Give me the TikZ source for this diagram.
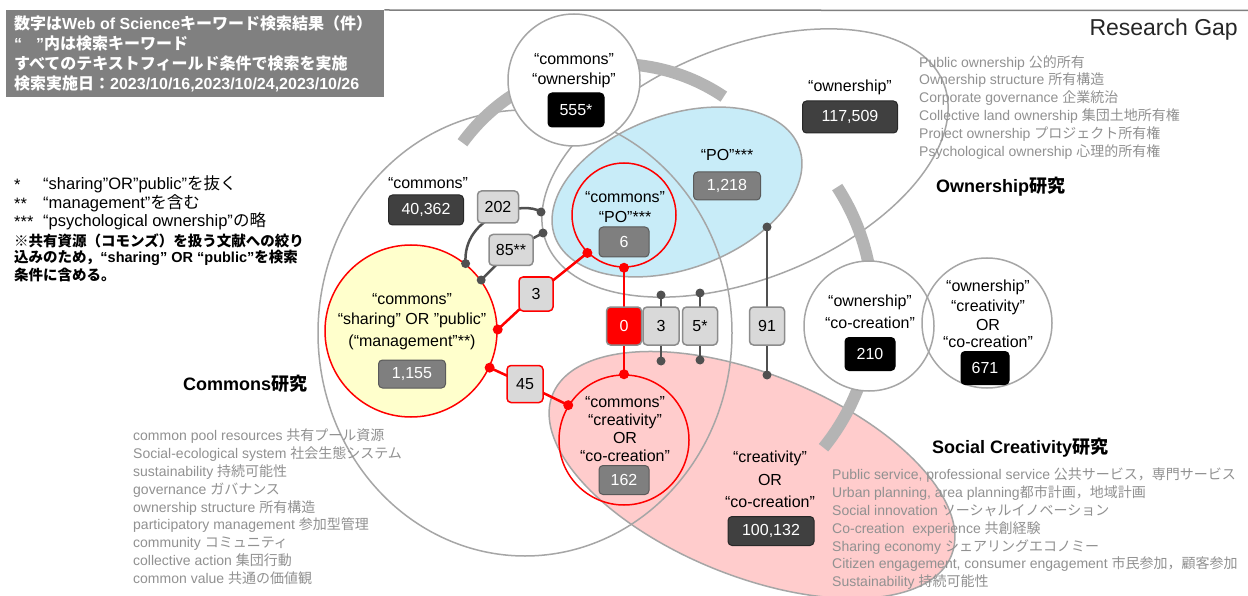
\documentclass[tikz,border=0pt]{standalone}
\usepackage{fontspec}
\setmainfont{Liberation Sans}
\newfontfamily\jpf{Noto Sans CJK JP}
\newcommand\jp[1]{{\jpf #1}}
\newcommand\fs[2]{\fontsize{#1}{#2}\selectfont}
\usetikzlibrary{shapes.geometric}
\definecolor{outl}{RGB}{166,166,166}
\definecolor{arcg}{RGB}{180,180,180}
\definecolor{pob}{RGB}{200,236,248}
\definecolor{pinkf}{RGB}{255,204,204}
\definecolor{yelf}{RGB}{255,255,204}
\definecolor{boxd}{RGB}{64,64,64}
\definecolor{boxdd}{RGB}{40,40,40}
\definecolor{boxm}{RGB}{127,127,127}
\definecolor{boxmd}{RGB}{90,90,90}
\definecolor{boxl}{RGB}{217,217,217}
\definecolor{boxld}{RGB}{140,140,140}
\definecolor{listg}{RGB}{145,145,145}
\definecolor{conng}{RGB}{80,80,80}
\definecolor{titleg}{RGB}{128,128,128}
\pgfdeclarelayer{bg}
\pgfdeclarelayer{conn}
\pgfsetlayers{bg,conn,main}
\newcommand\ellpath[5]{plot[domain=0:357,samples=120,smooth cycle] ({#1+#3*cos(\x)*cos(#5)-#4*sin(\x)*sin(#5)},{#2+#3*cos(\x)*sin(#5)+#4*sin(\x)*cos(#5)})}
\tikzset{
 lbl/.style={font=\fs{16}{18}, inner sep=0pt, text=black},
 nbox/.style={rounded corners=4pt, inner sep=0pt, font=\fs{16}{18}, line width=1pt},
 ndark/.style={nbox, fill=boxd, draw=boxdd, text=white},
 nmid/.style={nbox, fill=boxm, draw=boxmd, text=white},
 nlight/.style={nbox, fill=boxl, draw=boxld, text=black, line width=1.5pt},
 nred/.style={nlight, draw=red},
 nblack/.style={nbox, fill=black, draw=black, text=white},
 nzero/.style={nbox, fill=red, draw=boxld, text=white, line width=1.5pt},
 gcirc/.style={circle, draw=outl, fill=white, line width=1.5pt, inner sep=0pt},
 rcirc/.style={circle, draw=red, line width=1.5pt, inner sep=0pt},
 dotg/.style={circle, fill=conng, inner sep=0pt, minimum size=9pt},
 dotr/.style={circle, fill=red, inner sep=0pt, minimum size=10pt},
 cg/.style={draw=conng, line width=2.5pt},
 cr/.style={draw=red, line width=2.5pt},
 listt/.style={anchor=north west, align=left, inner sep=0pt, text=listg, font=\fs{14}{17.8}},
 headt/.style={anchor=west, inner sep=0pt, font=\bfseries\fs{18}{20}},
 notet/.style={anchor=west, inner sep=0pt, font=\fs{16.5}{18}},
 boldn/.style={anchor=west, inner sep=0pt, font=\bfseries\fs{14.5}{17}},
}
\begin{document}
\begin{tikzpicture}[x=1pt,y=-1pt]
\useasboundingbox (0,0) rectangle (1248,596);
\begin{pgfonlayer}{bg}
 \fill[white] (0,0) rectangle (1248,596);
 \fill[pob] \ellpath{677}{192}{130}{77}{-20};
 \begin{scope}
  \clip (0,0) rectangle (1248,596);
  \fill[pinkf] \ellpath{752}{475}{215}{101}{22};
  \draw[outl, line width=1.5pt] \ellpath{752}{475}{215}{101}{22};
 \end{scope}
 \draw[outl, line width=1.5pt] \ellpath{525}{333}{207}{223}{0};
 \draw[outl, line width=1.5pt] \ellpath{745}{163}{214}{116}{-22};
 \draw[outl, line width=1.5pt] \ellpath{677}{192}{130}{77}{-20};
 \draw[arcg, line width=12pt] plot[domain=144:56, samples=50, smooth] ({617+191*cos(\x)},{255-191*sin(\x)});
 \draw[arcg, line width=12pt] plot[domain=33:-39, samples=50, smooth] ({651+222*cos(\x)},{308-222*sin(\x)});
\end{pgfonlayer}

% title box
\node[fill=titleg, anchor=north west, minimum width=378pt, minimum height=87pt, inner sep=0pt] (tbox) at (6,10) {};
\node[anchor=north west, text=white, font=\bfseries\fs{16}{20}, align=left, inner sep=0pt] (ttxt) at (14,15) {\jp{数字は}Web of Science\jp{キーワード検索結果（件）}\\“\hspace{14pt}”\jp{内は検索キーワード}\\\jp{すべてのテキストフィールド条件で検索を実施}\\\jp{検索実施日：}2023/10/16,2023/10/24,2023/10/26};
\coordinate (tlR) at (1248,10.5);
\draw[titleg, line width=1.5pt] (tbox.north east) -- (tlR);
\node[anchor=east, inner sep=0pt, font=\fs{23}{26}, text=black!85] (rg) at (1238,30) {Research Gap};

% notes
\node[notet] (s1) at (14,185) {*};
\node[notet] (t1) at (43,184) {“sharing”OR”public”\jp{を抜く}};
\node[notet] (s2) at (14,204) {**};
\node[notet] (t2) at (43,203) {“management”\jp{を含む}};
\node[notet] (s3) at (14,222) {***};
\node[notet] (t3) at (43,221) {“psychological ownership”\jp{の略}};
\node[boldn] (b1) at (14,241) {\jp{※共有資源（コモンズ）を扱う文献への絞り}};
\node[boldn] (b2) at (14,258) {\jp{込みのため，}“sharing” OR “public”\jp{を検索}};
\node[boldn] (b3) at (14,275) {\jp{条件に含める。}};

% headings
\node[headt] (hC) at (183,384) {Commons\jp{研究}};
\node[headt] (hO) at (936,187) {Ownership\jp{研究}};
\node[headt] (hS) at (932,448) {Social\hspace{5pt}Creativity\jp{研究}};

% lists
\node[listt] (lO) at (919,55) {Public ownership \jp{公的所有}\\Ownership structure \jp{所有構造}\\Corporate governance \jp{企業統治}\\Collective land ownership \jp{集団土地所有権}\\Project ownership \jp{プロジェクト所有権}\\Psychological ownership \jp{心理的所有権}};
\node[listt] (lC) at (133,429) {common pool resources \jp{共有プール資源}\\Social-ecological system \jp{社会生態システム}\\sustainability \jp{持続可能性}\\governance \jp{ガバナンス}\\ownership structure \jp{所有構造}\\participatory management \jp{参加型管理}\\community \jp{コミュニティ}\\collective action \jp{集団行動}\\common value \jp{共通の価値観}};
\node[listt] (lS) at (832,468) {Public service, professional service \jp{公共サービス，専門サービス}\\Urban planning, area planning\jp{都市計画，地域計画}\\Social innovation \jp{ソーシャルイノベーション}\\Co-creation\ \ experience \jp{共創経験}\\Sharing economy \jp{シェアリングエコノミー}\\Citizen engagement, consumer engagement \jp{市民参加，顧客参加}\\Sustainability \jp{持続可能性}};

% circles
\node[gcirc, minimum size=132pt] (cco) at (574,80) {};
\node[rcirc, fill=yelf, minimum size=172pt] (yc) at (411,331) {};
\node[rcirc, minimum size=104pt] (cpo) at (624,215) {};
\node[rcirc, minimum size=130pt] (ccr) at (624,440) {};
\node[gcirc, minimum size=130pt] (coc) at (869,326) {};
\node[gcirc, fill=none, minimum size=130pt] (coc2) at (987,323) {};

% labels and numbers
\node[lbl] (lcco1) at (574,59) {“commons”};
\node[lbl] (lcco2) at (574,80) {“ownership”};
\node[nblack, minimum width=56pt, minimum height=34pt] (n555) at (576,110) {555*};

\node[lbl] (lown) at (850,87) {“ownership”};
\node[ndark, minimum width=95pt, minimum height=32pt] (n117) at (850,117) {117,509};
\node[lbl] (lpo) at (727,155) {“PO”***};
\node[nmid, minimum width=67pt, minimum height=28pt] (n1218) at (727,186) {1,218};

\node[lbl] (lcom) at (428,183) {“commons”};
\node[ndark, minimum width=75pt, minimum height=30pt] (n40) at (426,210) {40,362};
\node[nlight, minimum width=41pt, minimum height=32pt] (n202) at (498,207) {202};
\node[nlight, minimum width=44pt, minimum height=31pt] (n85) at (511,250) {85**};

\node[lbl] (ly1) at (412,299) {“commons”};
\node[lbl] (ly2) at (412,320) {“sharing” OR ”public”};
\node[lbl] (ly3) at (412,342) {(“management”**)};
\node[nmid, minimum width=67pt, minimum height=28pt] (n1155) at (412,374) {1,155};

\node[lbl] (lp1) at (625,197) {“commons”};
\node[lbl] (lp2) at (625,217) {“PO”***};
\node[nmid, minimum width=50pt, minimum height=30pt] (n6) at (624,242) {6};

\node[lbl] (lr1) at (625,402) {“commons”};
\node[lbl] (lr2) at (625,421) {“creativity”};
\node[lbl] (lr3) at (625,438) {OR};
\node[lbl] (lr4) at (625,456) {“co-creation”};
\node[nmid, minimum width=50pt, minimum height=29pt] (n162) at (624,480) {162};

\node[lbl] (lk1) at (770,458) {“creativity”};
\node[lbl] (lk2) at (770,480) {OR};
\node[lbl] (lk3) at (770,502) {“co-creation”};
\node[ndark, minimum width=86pt, minimum height=29pt] (n100) at (771,531) {100,132};

\node[lbl] (lo1) at (870,302) {“ownership”};
\node[lbl] (lo2) at (870,323) {“co-creation”};
\node[nblack, minimum width=50pt, minimum height=33pt] (n210) at (870,354) {210};

\node[lbl] (lq1) at (988,287) {“ownership”};
\node[lbl] (lq2) at (988,307) {“creativity”};
\node[lbl] (lq3) at (988,325) {OR};
\node[lbl] (lq4) at (988,342) {“co-creation”};
\node[nblack, minimum width=48pt, minimum height=33pt] (n671) at (985,368) {671};

\node[nred, minimum width=34pt, minimum height=34pt] (n3a) at (536,294) {3};
\node[nred, minimum width=36pt, minimum height=37pt] (n45) at (525,384) {45};
\node[nzero, minimum width=35pt, minimum height=38pt] (n0) at (624,326) {0};
\node[nlight, minimum width=36pt, minimum height=38pt] (n3b) at (661,326) {3};
\node[nlight, minimum width=35pt, minimum height=38pt] (n5) at (700,326) {5*};
\node[nlight, minimum width=35pt, minimum height=38pt] (n91) at (767,326) {91};

% dots
\node[dotg] (d202a) at (yc.51) {};
\node[dotg] (d202b) at (541,212) {};
\node[dotg] (d85a) at (yc.36) {};
\node[dotg] (d85b) at (543,233) {};
\node[dotr] (d3a) at (yc.1) {};
\node[dotr] (d3b) at (cpo.226) {};
\node[dotr] (d45a) at (yc.-25) {};
\node[dotr] (d45b) at (ccr.148) {};
\node[dotr] (d0a) at (cpo.south) {};
\node[dotr] (d0b) at (ccr.north) {};
\node[dotg] (d3t) at (661,295) {};
\node[dotg] (d3u) at (661,361) {};
\node[dotg] (d5t) at (700,293) {};
\node[dotg] (d5u) at (700,360) {};
\node[dotg] (d91t) at (767,227) {};
\node[dotg] (d91u) at (767,375) {};

% connectors
\begin{pgfonlayer}{conn}
 \draw[cg] (d202a.center) .. controls (462,215) and (525,200) .. (d202b.center);
 \draw[cg] (d85a.center) -- (n85.center) -- (d85b.center);
 \draw[cr] (d3a.center) -- (n3a.center) -- (d3b.center);
 \draw[cr] (d45a.center) -- (n45.center) -- (d45b.center);
 \draw[cr] (d0a.center) -- (n0.center) -- (d0b.center);
 \draw[cg] (d3t.center) -- (n3b.center) -- (d3u.center);
 \draw[cg] (d5t.center) -- (n5.center) -- (d5u.center);
 \draw[cg] (d91t.center) -- (n91.center) -- (d91u.center);
\end{pgfonlayer}
\end{tikzpicture}
\end{document}
